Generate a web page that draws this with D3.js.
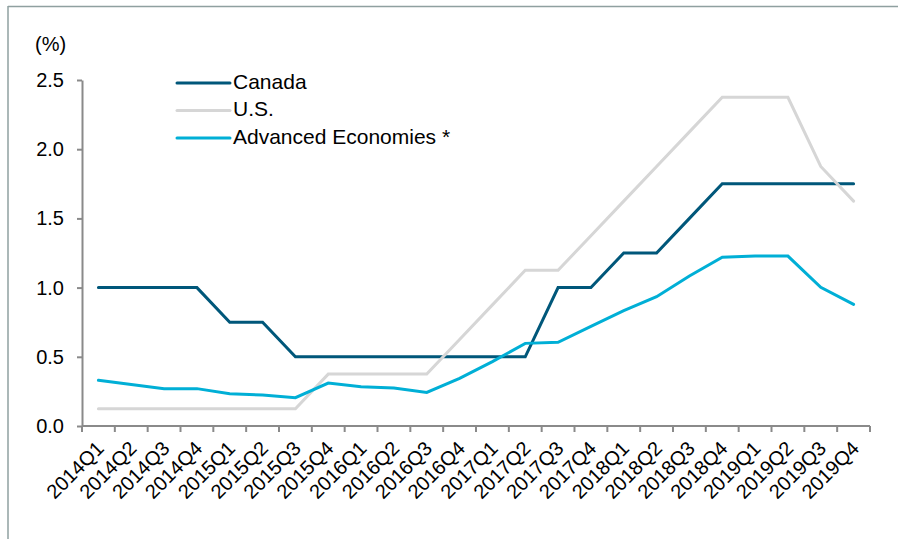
<!DOCTYPE html>
<html>
<head>
<meta charset="utf-8">
<script src="https://cdn.jsdelivr.net/npm/d3@7/dist/d3.min.js"></script>
<style>
  html, body { margin: 0; padding: 0; background: #fff; }
  svg { display: block; font-family: "Liberation Sans", Arial, sans-serif; }
</style>
</head>
<body>
<svg id="chart" width="898" height="539"></svg>
<script>
// Policy rates by quarter
const quarters = [
  "2014Q1","2014Q2","2014Q3","2014Q4",
  "2015Q1","2015Q2","2015Q3","2015Q4",
  "2016Q1","2016Q2","2016Q3","2016Q4",
  "2017Q1","2017Q2","2017Q3","2017Q4",
  "2018Q1","2018Q2","2018Q3","2018Q4",
  "2019Q1","2019Q2","2019Q3","2019Q4"
];
const canada = [1.0,1.0,1.0,1.0, 0.75,0.75,0.5,0.5, 0.5,0.5,0.5,0.5, 0.5,0.5,1.0,1.0, 1.25,1.25,1.5,1.75, 1.75,1.75,1.75,1.75];
const us = [0.125,0.125,0.125,0.125, 0.125,0.125,0.125,0.375, 0.375,0.375,0.375,0.625, 0.875,1.125,1.125,1.375, 1.625,1.875,2.125,2.375, 2.375,2.375,1.875,1.625];
const advanced = [0.33,0.30,0.27,0.27, 0.233,0.224,0.205,0.31, 0.284,0.275,0.243,0.344, 0.465,0.597,0.605,0.72, 0.833,0.934,1.084,1.219, 1.228,1.228,1.002,0.879];
const yTicks = [0, 0.5, 1.0, 1.5, 2.0, 2.5];

const series = [
  { name: "Canada", values: canada, color: "#00577a" },
  { name: "U.S.", values: us, color: "#d6d6d6" },
  { name: "Advanced Economies *", values: advanced, color: "#00afd6" }
];

const svg = d3.select("#chart");
const axisColor = "#8a8a8a";
const fontFamily = "Liberation Sans, Arial, sans-serif";

// frame lines along the top and left edges
svg.append("line").attr("x1", 8).attr("x2", 898).attr("y1", 6.5).attr("y2", 6.5)
  .attr("stroke", "#8fa0a0").attr("stroke-width", 1.5);
svg.append("line").attr("x1", 8).attr("x2", 8).attr("y1", 6).attr("y2", 539)
  .attr("stroke", "#8fa0a0").attr("stroke-width", 1.5);

const plotLeft = 82, plotRight = 870, plotTop = 80, plotBottom = 426;

const x = d3.scaleBand().domain(quarters).range([plotLeft, plotRight]);
const y = d3.scaleLinear().domain([0, 2.5]).range([plotBottom, plotTop]);

// y axis
const yAxis = svg.append("g").attr("transform", `translate(${plotLeft},0)`)
  .call(d3.axisLeft(y).tickValues(yTicks).tickFormat(d3.format(".1f")).tickSize(5).tickSizeOuter(0));
yAxis.select(".domain").attr("stroke", axisColor).attr("stroke-width", 2);
yAxis.selectAll(".tick line").attr("stroke", axisColor).attr("stroke-width", 2);
yAxis.selectAll(".tick text").attr("fill", "#000").attr("font-size", 20)
  .attr("font-family", fontFamily).attr("x", -18);

svg.append("text").attr("x", 35).attr("y", 51).attr("font-size", 20).attr("fill", "#000")
  .attr("font-family", fontFamily).text("(%)");

// x axis: ticks at the boundaries between quarters
const xg = svg.append("g").attr("transform", `translate(0,${plotBottom})`);
xg.append("line").attr("x1", plotLeft).attr("x2", plotRight).attr("y1", 0).attr("y2", 0)
  .attr("stroke", axisColor).attr("stroke-width", 2);
const bounds = quarters.map(q => x(q)).concat([x.range()[1]]);
xg.selectAll("line.tk").data(bounds).join("line").attr("class", "tk")
  .attr("x1", d => d).attr("x2", d => d).attr("y1", 0).attr("y2", 6)
  .attr("stroke", axisColor).attr("stroke-width", 2);
xg.selectAll("text.lbl").data(quarters).join("text").attr("class", "lbl")
  .attr("transform", d => `translate(${x(d) + x.bandwidth() / 2 + 3},${20}) rotate(-45)`)
  .attr("text-anchor", "end").attr("dominant-baseline", "middle")
  .attr("font-size", 20).attr("font-family", fontFamily).attr("fill", "#000")
  .text(d => d);

// lines
const line = d3.line()
  .x((d, i) => x(quarters[i]) + x.bandwidth() / 2)
  .y(d => y(d));
series.forEach(s => {
  svg.append("path").datum(s.values).attr("d", line)
    .attr("fill", "none").attr("stroke", s.color).attr("stroke-width", 3)
    .attr("stroke-linejoin", "miter").attr("stroke-linecap", "round");
});

// legend
const lg = svg.append("g");
series.forEach((s, i) => {
  const ly = 83 + i * 27.5;
  lg.append("line").attr("x1", 177).attr("x2", 230).attr("y1", ly).attr("y2", ly)
    .attr("stroke", s.color).attr("stroke-width", 3).attr("stroke-linecap", "round");
  lg.append("text").attr("x", 233).attr("y", ly).attr("dominant-baseline", "middle")
    .attr("font-size", 21).attr("font-family", fontFamily).attr("fill", "#000").text(s.name);
});
</script>
</body>
</html>
